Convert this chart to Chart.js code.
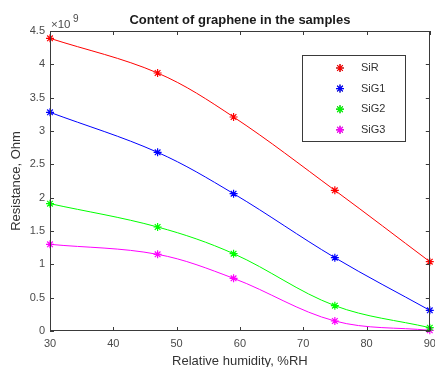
<!DOCTYPE html>
<html>
<head>
<meta charset="utf-8">
<script src="https://cdn.jsdelivr.net/npm/chart.js@4"></script>
<style>
  html, body { margin: 0; padding: 0; background: #fff; }
  #wrap { width: 435px; height: 367px; position: relative; }
</style>
</head>
<body>
<div id="wrap"><canvas id="chart"></canvas></div>
<script>
// humidity points (%RH) and resistance in units of 1e9 Ohm
const humidity = [30, 47, 59, 75, 90];
const seriesNames = ['SiR', 'SiG1', 'SiG2', 'SiG3'];
const sirValues = [4.39, 3.87, 3.21, 2.11, 1.04];
const sig1Values = [3.28, 2.68, 2.06, 1.10, 0.31];
const sig2Values = [1.91, 1.56, 1.16, 0.38, 0.05];
const sig3Values = [1.30, 1.15, 0.79, 0.15, 0.01];
const xTicks = [30, 40, 50, 60, 70, 80, 90];
const yTicks = [0, 0.5, 1, 1.5, 2, 2.5, 3, 3.5, 4, 4.5];
const yTickLabels = ['0', '0.5', '1', '1.5', '2', '2.5', '3', '3.5', '4', '4.5'];

const colors = ['#ff0000', '#0000ff', '#00ff00', '#ff00ff'];
const FONT = '"Liberation Sans", Arial, Helvetica, sans-serif';
const AXIS = '#3a3a3a';

function makeSet(name, values, color) {
  return {
    label: name,
    data: humidity.map((x, i) => ({ x, y: values[i] })),
    borderColor: color,
    backgroundColor: color,
    borderWidth: 1,
    tension: 0.35,
    pointStyle: 'star',
    pointRadius: 4,
    pointBorderWidth: 1.2,
    pointBorderColor: color,
    clip: false
  };
}

const frame = {
  id: 'frame',
  afterDatasetsDraw(chart) {
    const ctx = chart.ctx;
    const a = chart.chartArea;
    const xs = chart.scales.x;
    const ys = chart.scales.y;
    ctx.save();

    // axes box
    ctx.strokeStyle = AXIS;
    ctx.lineWidth = 1;
    ctx.strokeRect(Math.round(a.left) + 0.5, Math.round(a.top) + 0.5,
      Math.round(a.right - a.left) - 1, Math.round(a.bottom - a.top) - 1);

    // inward ticks on all four sides
    ctx.beginPath();
    xTicks.forEach((t) => {
      const px = Math.round(xs.getPixelForValue(t)) + 0.5;
      ctx.moveTo(px, a.bottom); ctx.lineTo(px, a.bottom - 4);
      ctx.moveTo(px, a.top); ctx.lineTo(px, a.top + 4);
    });
    yTicks.forEach((t) => {
      const py = Math.round(ys.getPixelForValue(t)) + 0.5;
      ctx.moveTo(a.left, py); ctx.lineTo(a.left + 4, py);
      ctx.moveTo(a.right, py); ctx.lineTo(a.right - 4, py);
    });
    ctx.stroke();

    // tick labels
    ctx.fillStyle = '#4a4a4a';
    ctx.font = '11px ' + FONT;
    ctx.textAlign = 'center';
    ctx.textBaseline = 'middle';
    xTicks.forEach((t) => ctx.fillText(String(t), xs.getPixelForValue(t), a.bottom + 13));
    ctx.textAlign = 'right';
    yTicks.forEach((t, i) => ctx.fillText(yTickLabels[i], a.left - 5, ys.getPixelForValue(t)));

    // exponent
    ctx.textAlign = 'left';
    ctx.font = '11.5px ' + FONT;
    ctx.fillText('\u00d710', a.left + 1, 25);
    ctx.font = '10px ' + FONT;
    ctx.fillText('9', a.left + 23, 19);

    // title
    ctx.fillStyle = '#1a1a1a';
    ctx.font = 'bold 13px ' + FONT;
    ctx.textAlign = 'center';
    ctx.fillText('Content of graphene in the samples', (a.left + a.right) / 2, 20);

    // axis titles
    ctx.fillStyle = '#333';
    ctx.font = '13px ' + FONT;
    ctx.fillText('Relative humidity, %RH', (a.left + a.right) / 2, 361);
    ctx.save();
    ctx.translate(16, (a.top + a.bottom) / 2);
    ctx.rotate(-Math.PI / 2);
    ctx.fillText('Resistance, Ohm', 0, 0);
    ctx.restore();

    // legend
    ctx.fillStyle = '#fff';
    ctx.fillRect(302.5, 55.5, 103, 86);
    ctx.strokeStyle = AXIS;
    ctx.strokeRect(302.5, 55.5, 103, 86);
    ctx.font = '11px ' + FONT;
    ctx.textAlign = 'left';
    chart.data.datasets.forEach((ds, i) => {
      const y = 68 + i * 20.6;
      Chart.helpers.drawPoint(ctx, {
        pointStyle: 'star', radius: 4, rotation: 0, borderWidth: 1.2
      }, 340, y);
      ctx.strokeStyle = ds.borderColor;
      ctx.lineWidth = 1.2;
      ctx.stroke();
      ctx.fillStyle = '#333';
      ctx.fillText(ds.label, 361, y);
      ctx.strokeStyle = AXIS;
      ctx.lineWidth = 1;
    });

    ctx.restore();
  }
};

new Chart(document.getElementById('chart'), {
  type: 'line',
  data: {
    datasets: [
      makeSet(seriesNames[0], sirValues, colors[0]),
      makeSet(seriesNames[1], sig1Values, colors[1]),
      makeSet(seriesNames[2], sig2Values, colors[2]),
      makeSet(seriesNames[3], sig3Values, colors[3])
    ]
  },
  options: {
    responsive: true,
    maintainAspectRatio: false,
    animation: false,
    layout: { padding: { left: 50, right: 5, top: 31, bottom: 36 } },
    scales: {
      x: { type: 'linear', min: 30, max: 90, display: false },
      y: { type: 'linear', min: 0, max: 4.5, display: false }
    },
    plugins: {
      legend: { display: false },
      title: { display: false },
      tooltip: { enabled: false }
    }
  },
  plugins: [frame]
});
</script>
</body>
</html>
